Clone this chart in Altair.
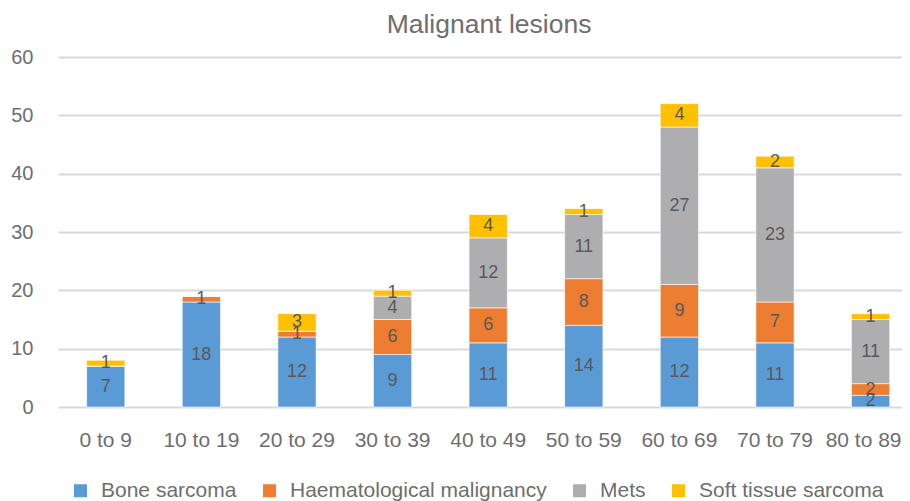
import altair as alt
import pandas as pd

ages = ["0 to 9", "10 to 19", "20 to 29", "30 to 39", "40 to 49",
        "50 to 59", "60 to 69", "70 to 79", "80 to 89"]
series = ["Bone sarcoma", "Haematological malignancy", "Mets", "Soft tissue sarcoma"]
bone = [7, 18, 12, 9, 11, 14, 12, 11, 2]
haem = [0, 1, 1, 6, 6, 8, 9, 7, 2]
mets = [0, 0, 0, 4, 12, 11, 27, 23, 11]
soft = [1, 0, 3, 1, 4, 1, 4, 2, 1]
colors = ["#5B9BD5", "#ED7D31", "#AEAEB1", "#FFC000"]

rows = []
for si, (name, vals) in enumerate(zip(series, [bone, haem, mets, soft])):
    for a, v in zip(ages, vals):
        rows.append({"age": a, "series": name, "value": v, "order": si})
df = pd.DataFrame(rows)

FONT = "Liberation Sans, Arial, sans-serif"
TXT = "#595959"
AXT = "#6E6E6E"

xscale = alt.Scale(paddingInner=0.6, paddingOuter=0.214, align=0.7, round=False)
xaxis = alt.Axis(title=None, domain=False, ticks=False, tickSize=0, labelAngle=0,
                 labelFont=FONT, labelFontSize=21, labelColor=AXT,
                 labelBaseline="alphabetic", labelPadding=39,
                 labelOffset={"condition": {"test": "datum.value == '80 to 89'", "value": -7},
                              "value": 0})
yaxis = alt.Axis(title=None, domain=False, ticks=False, tickSize=0,
                 values=[0, 10, 20, 30, 40, 50, 60], grid=True,
                 gridColor="#D9D9D9", gridWidth=2,
                 labelFont=FONT, labelFontSize=20, labelColor=AXT,
                 labelPadding=25)

base = alt.Chart(df).transform_stack(
    stack="value", groupby=["age"], as_=["y0", "y1"],
    sort=[alt.SortField("order", order="ascending")]
)

bars = base.mark_bar(stroke="white", strokeWidth=0.6).encode(
    x=alt.X("age:N", sort=ages, scale=xscale, axis=xaxis),
    y=alt.Y("y0:Q", scale=alt.Scale(domain=[0, 60], nice=False), axis=yaxis),
    y2="y1:Q",
    color=alt.Color("series:N",
                    scale=alt.Scale(domain=series, range=colors),
                    legend=alt.Legend(title=None, orient="none", legendX=12, legendY=423,
                                      direction="horizontal", symbolType="square",
                                      symbolSize=169, symbolStrokeWidth=0,
                                      labelFont=FONT, labelFontSize=21, labelColor=AXT,
                                      labelOffset=10, columnPadding=22, padding=0,
                                      labelLimit=0)),
)

labels = base.transform_filter("datum.value > 0").transform_calculate(
    mid="(datum.y0 + datum.y1) / 2"
).mark_text(font=FONT, fontSize=18, color=TXT, baseline="middle").encode(
    x=alt.X("age:N", sort=ages, scale=xscale, axis=xaxis),
    y=alt.Y("mid:Q", scale=alt.Scale(domain=[0, 60], nice=False), axis=yaxis),
    text="value:Q",
)

chart = alt.layer(bars, labels).properties(
    width=844, height=350,
    title=alt.TitleParams("Malignant lesions", font=FONT, fontSize=26.5, color=AXT,
                          fontWeight="normal", anchor="middle", frame="group",
                          offset=9, dx=9),
    autosize=alt.AutoSizeParams(type="none"),
    padding={"left": 50, "top": 49, "right": 0, "bottom": 94},
).configure_view(stroke=None)

chart.save("out.html", embed_options={"renderer": "svg", "actions": False})
